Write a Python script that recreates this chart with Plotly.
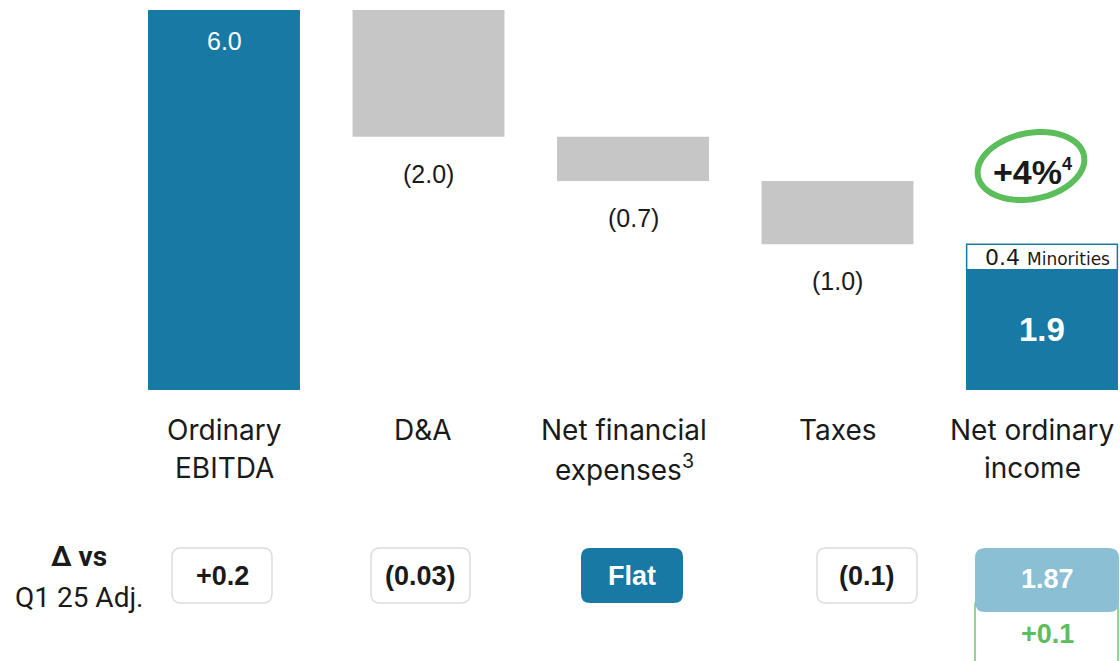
import math
import plotly.graph_objects as go

# ---------------- data ----------------
categories = ["Ordinary EBITDA", "D&A", "Net financial expenses", "Taxes", "Net ordinary income"]
cat_lines = [["Ordinary", "EBITDA"], ["D&A"], ["Net financial", "expenses<sup>3</sup>"],
             ["Taxes"], ["Net ordinary", "income"]]
steps = [6.0, -2.0, -0.7, -1.0]          # EBITDA then negative bridges
net_income = 1.9
minorities = 0.4
growth_label = "+4%"
growth_note = "4"
delta_title = ["<b>Δ vs</b>", "Q1 25 Adj."]
delta_labels = ["+0.2", "(0.03)", "Flat", "(0.1)", "1.87"]
delta_sub = "+0.1"

# ---------------- style ----------------
W, H = 1120, 661
BLUE = "#1779A4"
GRAY = "#C6C6C6"
LIGHTBLUE = "#8BBFD3"
GREEN = "#5BBE5B"
TXT = "#1a1a1a"
NUMFONT = "Liberation Sans, Arial, sans-serif"
CATFONT = "Inter, Open Sans, sans-serif"
cat_xshift = [0, -6, -9, 0, -10]

def fmt(v):
    return f"({abs(v):.1f})" if v < 0 else f"{v:.1f}"

# waterfall bases
bases, heights, colors = [], [], []
running = 0.0
for i, v in enumerate(steps):
    if v >= 0:
        bases.append(running); heights.append(v)
        colors.append(BLUE)
    else:
        bases.append(running + v); heights.append(-v)
        colors.append(GRAY)
    running += v
xs = list(range(len(steps)))
BW = 0.743

fig = go.Figure()
fig.add_trace(go.Bar(x=xs, y=heights, base=bases, marker=dict(color=colors, line=dict(width=0)),
                     width=BW, hoverinfo="skip"))
fig.add_trace(go.Bar(x=[4], y=[net_income], base=[0], marker=dict(color=BLUE, line=dict(width=0)),
                     width=BW, hoverinfo="skip"))
fig.add_trace(go.Bar(x=[4], y=[minorities], base=[net_income],
                     marker=dict(color="white", line=dict(color=BLUE, width=1.5)),
                     width=BW - 0.006, hoverinfo="skip"))

ann = []
C = dict(xanchor="center", yanchor="middle", showarrow=False)
# bar value labels
for i, v in enumerate(steps):
    if v >= 0:
        ann.append(dict(x=i, y=bases[i] + heights[i], text=fmt(v), showarrow=False, xanchor="center",
                        yanchor="top", yshift=-15, font=dict(family=NUMFONT, size=25, color="white")))
    else:
        ann.append(dict(x=i, y=bases[i], text=fmt(v), showarrow=False, xanchor="center", yanchor="top",
                        yshift=-21, font=dict(family=NUMFONT, size=25, color=TXT)))
ann.append(dict(x=4, y=net_income / 2, text=f"<b>{net_income:.1f}</b>",
                font=dict(family=NUMFONT, size=33, color="white"), **C))
ann.append(dict(x=4, y=net_income + minorities / 2,
                text=f"{minorities:.1f} <span style='font-size:17px'>Minorities</span>",
                xshift=5, font=dict(family="DejaVu Sans, sans-serif", size=22, color=TXT), **C))
ann.append(dict(x=4, y=net_income + minorities,
                text=f"<b>{growth_label}<sup><span style='font-size:18px'>{growth_note}</span></sup></b>",
                yshift=72, xshift=-10, font=dict(family=NUMFONT, size=34, color=TXT), **C))

# category labels
for i, lines in enumerate(cat_lines):
    for j, line in enumerate(lines):
        ann.append(dict(x=i, xref="x", y=1 - (430 + 38 * j) / H, yref="paper", text=line,
                        xshift=cat_xshift[i],
                        font=dict(family=CATFONT, size=28, color=TXT), **C))

def P(px, py):
    return f"{px / W:.5f},{1 - py / H:.5f}"

def rrect(x0, y0, x1, y1, r):
    s = f"M {P(x0 + r, y0)} L {P(x1 - r, y0)} Q {P(x1, y0)} {P(x1, y0 + r)} "
    s += f"L {P(x1, y1 - r)} Q {P(x1, y1)} {P(x1 - r, y1)} "
    s += f"L {P(x0 + r, y1)} Q {P(x0, y1)} {P(x0, y1 - r)} "
    s += f"L {P(x0, y0 + r)} Q {P(x0, y0)} {P(x0 + r, y0)} "
    return s + "Z"

shapes = []
boxes = [(172, 272), (371, 470), (581, 683), (817, 917), (975, 1119)]
for k, (lab, (bx0, bx1)) in enumerate(zip(delta_labels, boxes)):
    if k == 4:
        shapes.append(dict(type="path", xref="paper", yref="paper",
                           path=rrect(bx0, 596, bx1 - 1, 672, 10),
                           line=dict(color=GREEN, width=1.3), fillcolor="white", layer="above"))
        shapes.append(dict(type="path", xref="paper", yref="paper",
                           path=rrect(bx0, 548, bx1, 612, 10),
                           line=dict(width=0), fillcolor=LIGHTBLUE, layer="above"))
        col = "white"; cy = 579
    elif lab == "Flat":
        shapes.append(dict(type="path", xref="paper", yref="paper",
                           path=rrect(bx0, 548, bx1, 603, 9),
                           line=dict(width=0), fillcolor=BLUE, layer="above"))
        col = "white"; cy = 576
    else:
        shapes.append(dict(type="path", xref="paper", yref="paper",
                           path=rrect(bx0, 548, bx1, 603, 9),
                           line=dict(color="#DDDDDD", width=1.5), fillcolor="white", layer="above"))
        col = TXT; cy = 576
    ann.append(dict(x=(bx0 + bx1) / 2 / W, xref="paper", y=1 - cy / H, yref="paper",
                    text=f"<b>{lab}</b>", font=dict(family=NUMFONT, size=27, color=col), **C))
ann.append(dict(x=1047 / W, xref="paper", y=1 - 634 / H, yref="paper", text=f"<b>{delta_sub}</b>",
                font=dict(family=NUMFONT, size=27, color=GREEN), **C))

# row title
ann.append(dict(x=79 / W, xref="paper", y=1 - 556 / H, yref="paper", text=delta_title[0],
                font=dict(family="Roboto, sans-serif", size=28, color=TXT), **C))
ann.append(dict(x=79 / W, xref="paper", y=1 - 597 / H, yref="paper", text=delta_title[1],
                font=dict(family="Roboto, sans-serif", size=28, color=TXT), **C))

# green hand-drawn ring around growth label (tilted, slightly overlapping stroke)
cx, cy0, rx, ry, rot = 1031, 166, 54, 33, math.radians(-11)
pts = []
for k in range(0, 76):
    t = math.radians(-40 + k * 5.4)
    ex, ey = rx * math.cos(t), ry * math.sin(t)
    px = cx + ex * math.cos(rot) - ey * math.sin(rot)
    py = cy0 + ex * math.sin(rot) + ey * math.cos(rot)
    pts.append(P(px, py))
ring = "M " + " L ".join(pts)
shapes.append(dict(type="path", xref="paper", yref="paper", path=ring,
                   line=dict(color=GREEN, width=6), layer="above"))

x0 = -224 / 204.5
x1 = x0 + W / 204.5
ytop = 390 / 63.33
ybot = ytop - H / 63.33

fig.update_layout(
    width=W, height=H, margin=dict(l=0, r=0, t=0, b=0),
    paper_bgcolor="white", plot_bgcolor="white",
    barmode="overlay", showlegend=False,
    xaxis=dict(range=[x0, x1], visible=False, fixedrange=True),
    yaxis=dict(range=[ybot, ytop], visible=False, fixedrange=True),
    annotations=ann, shapes=shapes,
)
fig.write_html("out.html", config={"displayModeBar": False},
               post_script="document.body.style.margin='0';document.body.style.overflow='hidden';")
